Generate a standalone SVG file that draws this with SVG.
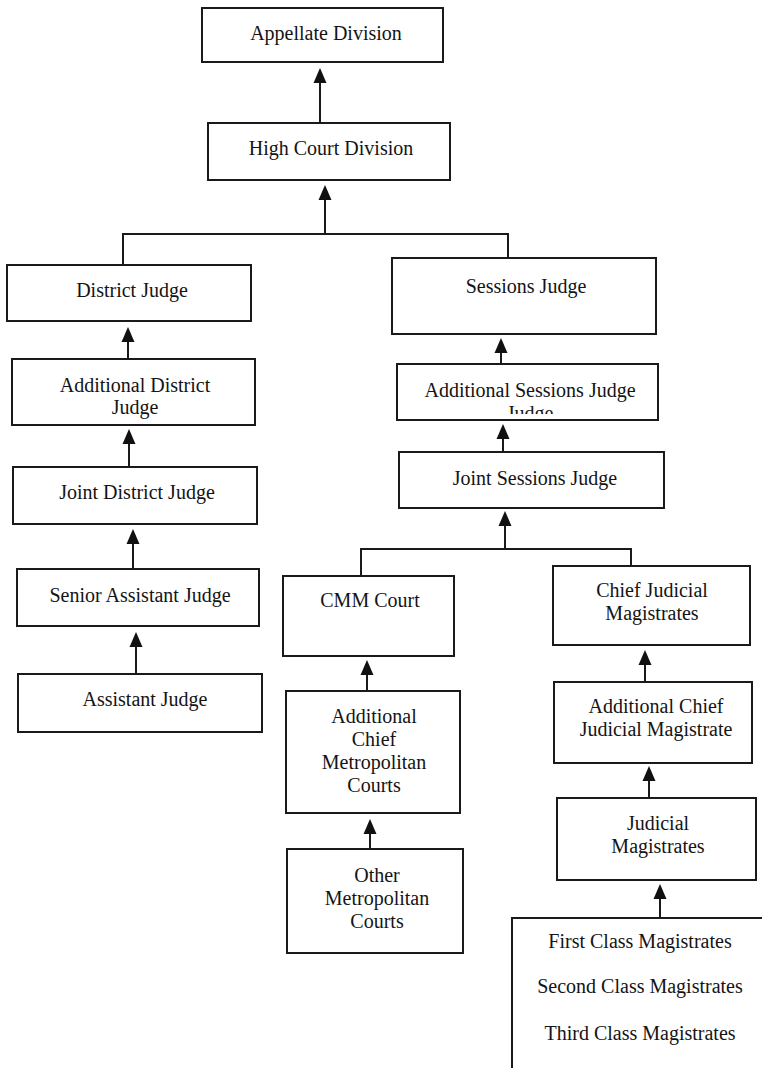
<svg xmlns="http://www.w3.org/2000/svg" width="762" height="1068" viewBox="0 0 762 1068">
<style>
.box{fill:#fff;stroke:#1a1a1a;stroke-width:2}
.t{font-family:"Liberation Serif","Times New Roman",serif;font-size:20px;fill:#141414;text-anchor:middle}
.c{fill:none;stroke:#1a1a1a;stroke-width:2}
.a{fill:none;stroke:#1a1a1a;stroke-width:2;marker-end:url(#ah)}
</style>
<defs>
<marker id="ah" markerUnits="userSpaceOnUse" viewBox="0 -7 15 14" refX="0" refY="0" markerWidth="15" markerHeight="14" orient="auto">
<path d="M0,-6.5 L15,0 L0,6.5 Z" fill="#111"/>
</marker>
<clipPath id="clipJ"><rect x="397" y="364" width="261" height="50"/></clipPath>
</defs>
<rect width="762" height="1068" fill="#fff"/>
<g id="connectors">
<path class="a" d="M320,123 V83"/>
<path class="c" d="M123,265 V234 H508 V258"/>
<path class="a" d="M325,234 V200"/>
<path class="a" d="M128,359 V342"/>
<path class="a" d="M129,467 V444"/>
<path class="a" d="M133,569 V544"/>
<path class="a" d="M136,674 V647"/>
<path class="a" d="M501,364 V353"/>
<path class="a" d="M503,452 V439"/>
<path class="c" d="M361,576 V549 H631 V566"/>
<path class="a" d="M505,549 V526"/>
<path class="a" d="M367,691 V675"/>
<path class="a" d="M370,849 V834"/>
<path class="a" d="M645,682 V665"/>
<path class="a" d="M649,798 V781"/>
<path class="a" d="M660,918 V899"/>
</g>
<g id="appellate"><rect class="box" x="202" y="8" width="241" height="54"/><text class="t" x="326" y="40">Appellate Division</text></g>
<g id="highcourt"><rect class="box" x="208" y="123" width="242" height="57"/><text class="t" x="331" y="155">High Court Division</text></g>
<g id="district"><rect class="box" x="7" y="265" width="244" height="56"/><text class="t" x="132" y="297">District Judge</text></g>
<g id="sessions"><rect class="box" x="392" y="258" width="264" height="76"/><text class="t" x="526" y="293">Sessions Judge</text></g>
<g id="adddistrict"><rect class="box" x="12" y="359" width="243" height="66"/><text class="t" x="135" y="392">Additional District</text><text class="t" x="135" y="414">Judge</text></g>
<g id="addsessions"><rect class="box" x="397" y="364" width="261" height="56"/><text class="t" x="530" y="397">Additional Sessions Judge</text><text class="t" x="530" y="420" clip-path="url(#clipJ)">Judge</text></g>
<g id="jointdistrict"><rect class="box" x="13" y="467" width="244" height="57"/><text class="t" x="137" y="499">Joint District Judge</text></g>
<g id="jointsessions"><rect class="box" x="399" y="452" width="265" height="56"/><text class="t" x="535" y="485">Joint Sessions Judge</text></g>
<g id="senior"><rect class="box" x="17" y="569" width="242" height="57"/><text class="t" x="140" y="602">Senior Assistant Judge</text></g>
<g id="assistant"><rect class="box" x="18" y="674" width="244" height="58"/><text class="t" x="145" y="706">Assistant Judge</text></g>
<g id="cmm"><rect class="box" x="283" y="576" width="171" height="80"/><text class="t" x="370" y="607">CMM Court</text></g>
<g id="chiefjudicial"><rect class="box" x="553" y="566" width="197" height="79"/><text class="t" x="652" y="597">Chief Judicial</text><text class="t" x="652" y="620">Magistrates</text></g>
<g id="addchiefmetro"><rect class="box" x="286" y="691" width="174" height="122"/><text class="t" x="374" y="723">Additional</text><text class="t" x="374" y="746">Chief</text><text class="t" x="374" y="769">Metropolitan</text><text class="t" x="374" y="792">Courts</text></g>
<g id="addchiefjudicial"><rect class="box" x="554" y="682" width="198" height="81"/><text class="t" x="656" y="713">Additional Chief</text><text class="t" x="656" y="736">Judicial Magistrate</text></g>
<g id="othermetro"><rect class="box" x="287" y="849" width="176" height="104"/><text class="t" x="377" y="882">Other</text><text class="t" x="377" y="905">Metropolitan</text><text class="t" x="377" y="928">Courts</text></g>
<g id="judicial"><rect class="box" x="557" y="798" width="199" height="82"/><text class="t" x="658" y="830">Judicial</text><text class="t" x="658" y="853">Magistrates</text></g>
<g id="classmagistrates"><rect class="box" x="512" y="918" width="270" height="170"/><text class="t" x="640" y="948">First Class Magistrates</text><text class="t" x="640" y="993">Second Class Magistrates</text><text class="t" x="640" y="1040">Third Class Magistrates</text></g>
</svg>
